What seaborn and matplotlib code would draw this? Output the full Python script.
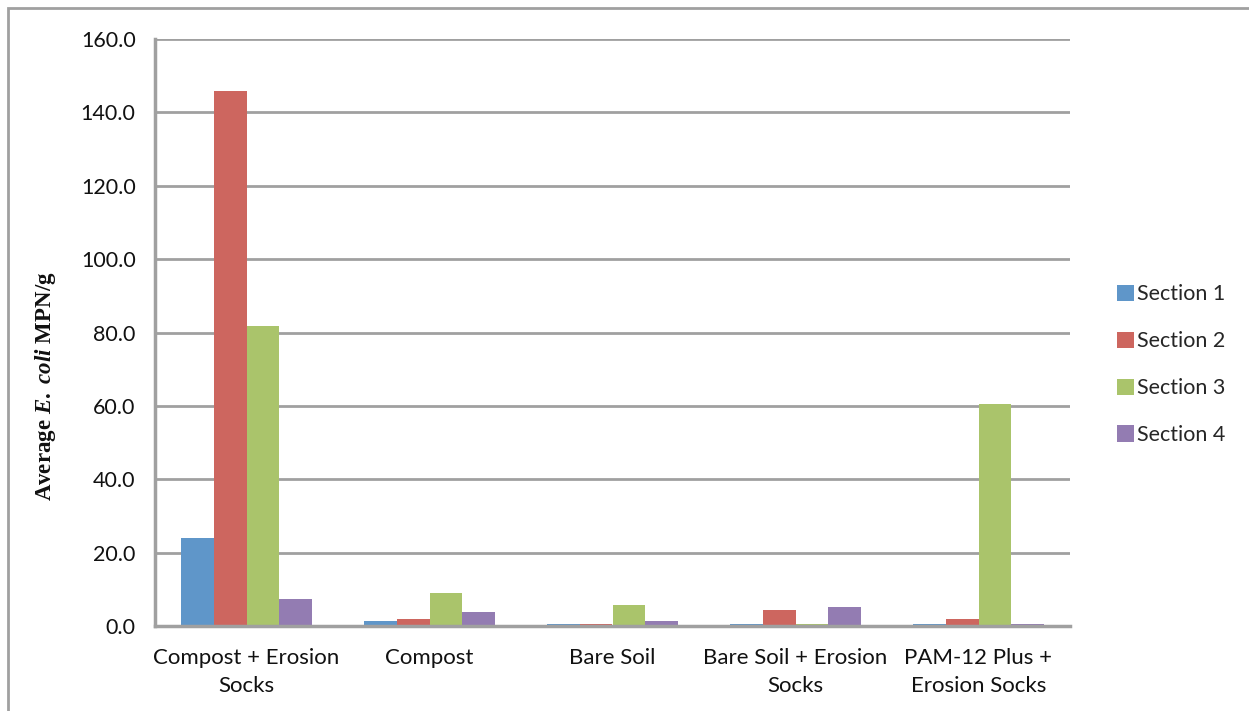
import matplotlib
matplotlib.use("Agg")
import matplotlib.pyplot as plt
from matplotlib.patches import Rectangle
import seaborn as sns
import pandas as pd

# Treatments and average E. coli counts per section
treatments = [
    "Compost + Erosion\nSocks",
    "Compost",
    "Bare Soil",
    "Bare Soil + Erosion\nSocks",
    "PAM-12 Plus +\nErosion Socks",
]
sections = ["Section 1", "Section 2", "Section 3", "Section 4"]
section_1 = [23.9, 1.3, 0.6, 0.6, 0.6]
section_2 = [145.8, 1.9, 0.6, 4.4, 1.8]
section_3 = [81.8, 8.9, 5.7, 0.6, 60.5]
section_4 = [7.3, 3.8, 1.3, 5.1, 0.6]
colors = ["#5F96C9", "#CD665F", "#AAC46B", "#937CB2"]
yticks = [0, 20, 40, 60, 80, 100, 120, 140, 160]

rows = []
for sec, vals in zip(sections, [section_1, section_2, section_3, section_4]):
    for t, v in zip(treatments, vals):
        rows.append({"Treatment": t, "Section": sec, "Value": v})
df = pd.DataFrame(rows)

sns.set_theme(style="white")
plt.rcParams["font.family"] = ["Lato", "DejaVu Sans"]
plt.rcParams["mathtext.fontset"] = "custom"
plt.rcParams["mathtext.rm"] = "Liberation Serif:bold"
plt.rcParams["mathtext.it"] = "Liberation Serif:bold:italic"
plt.rcParams["mathtext.bf"] = "Liberation Serif:bold"

fig = plt.figure(figsize=(12.49, 7.11), dpi=100)
ax = fig.add_axes([155 / 1249, 1 - 626 / 711, (1070 - 155) / 1249, (626 - 39) / 711])

sns.barplot(
    data=df, x="Treatment", y="Value", hue="Section",
    order=treatments, hue_order=sections, palette=colors,
    width=0.72, ax=ax, linewidth=0,
    errorbar=None, saturation=1,
)

ax.set_ylim(0, 160)
ax.set_yticks(yticks)
ax.set_yticklabels([f"{v:.1f}" for v in yticks], fontsize=15.5, color="#111111")
ax.set_xlabel("")
ax.set_ylabel(r"$\mathrm{Average}\ \mathit{E.\ coli}\ \mathrm{MPN/g}$",
              fontsize=16.5, color="#111111")
ax.yaxis.set_label_coords(-0.106, 0.409)
ax.tick_params(axis="x", length=0, labelsize=16, pad=16, colors="#111111")
ax.tick_params(axis="y", length=4, width=2, color="#A0A0A0", direction="out", pad=10)
for lbl in ax.get_xticklabels():
    lbl.set_linespacing(1.5)

ax.set_axisbelow(True)
ax.yaxis.grid(True, color="#A0A0A0", linewidth=2)
ax.xaxis.grid(False)
for side in ["top", "right"]:
    ax.spines[side].set_visible(False)
for side in ["left", "bottom"]:
    ax.spines[side].set_color("#A0A0A0")
    ax.spines[side].set_linewidth(2.5)

handles, labels = ax.get_legend_handles_labels()
ax.legend(
    handles, labels, loc="center left", bbox_to_anchor=(1.03, 0.445),
    frameon=False, fontsize=15.5, handlelength=0.8, handleheight=0.8,
    handletextpad=0.15, labelspacing=1.25,
)

# outer chart border
fig.patches.append(Rectangle((8 / 1249, -0.05), 1.1, 1 - 8 / 711 + 0.05,
                             transform=fig.transFigure, fill=False,
                             edgecolor="#A0A0A0", linewidth=2, figure=fig))

fig.savefig("out.png", dpi=100, facecolor="white")
